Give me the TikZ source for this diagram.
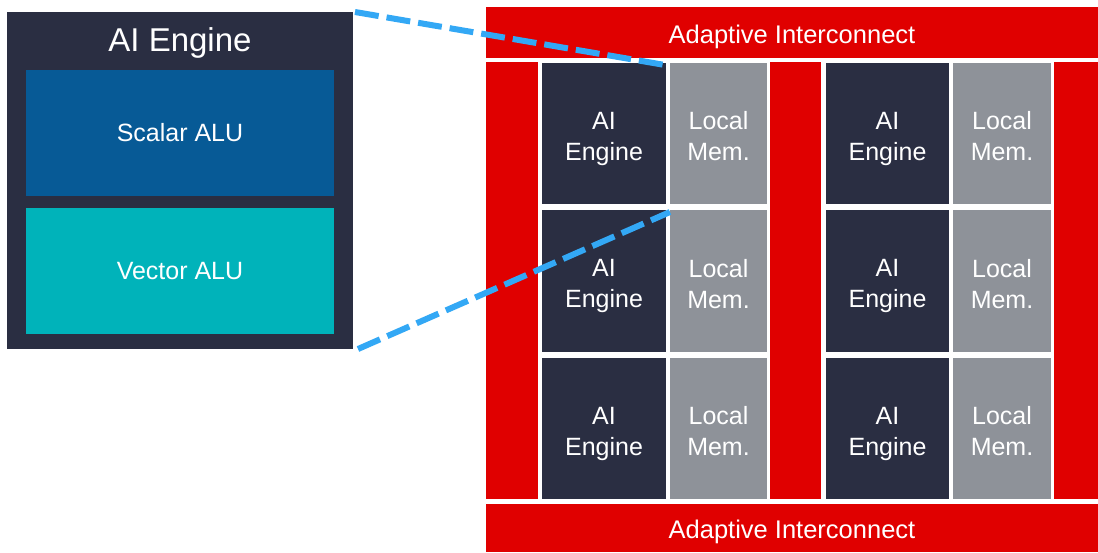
\documentclass[tikz,border=0pt]{standalone}
\usepackage{fontspec}
\setmainfont{Liberation Sans}
\definecolor{navy}{HTML}{2A2E42}
\definecolor{scalarc}{HTML}{075A96}
\definecolor{vectorc}{HTML}{00B3BA}
\definecolor{memc}{HTML}{8E9299}
\definecolor{redc}{HTML}{E00000}
\definecolor{dashc}{HTML}{33A8F5}
\begin{document}
\begin{tikzpicture}[x=1pt,y=-1pt,
  blk/.style={inner sep=0pt,outer sep=0pt,draw=none,text=white,align=center,font=\fontsize{25}{31}\selectfont},
  txt/.style={inner sep=0pt,outer sep=0pt,text=white,align=center,font=\fontsize{25}{31}\selectfont,yshift=-5pt},
  aicell/.style={blk,fill=navy,minimum width=124,minimum height=141,label={[txt]center:AI\\Engine}},
  memcell/.style={blk,fill=memc,minimum width=97,minimum height=141,label={[txt,yshift=2pt]center:Local\\Mem.}},
  redbar/.style={blk,fill=redc},
  bartext/.style={txt,font=\fontsize{25.5}{31}\selectfont,yshift=1pt},
  zoomline/.style={draw=dashc,line width=6pt,dash pattern=on 24pt off 8pt}]
\useasboundingbox (0,0) rectangle (1098,552);
\fill[white] (0,0) rectangle (1098,552);
% left detail box
\node[blk,fill=navy,minimum width=346,minimum height=337] (L) at (180,180.5) {};
\node[blk,font=\fontsize{33}{38}\selectfont] (Lt) at (180,43) {AI Engine};
\node[blk,fill=scalarc,minimum width=308,minimum height=126] (sa) at (180,133) {Scalar ALU};
\node[blk,fill=vectorc,minimum width=308,minimum height=126] (va) at (180,271) {Vector ALU};
% interconnect
\node[redbar,minimum width=612,minimum height=51,label={[bartext]center:Adaptive Interconnect}] (top) at (792,32.5) {};
\node[redbar,minimum width=612,minimum height=48,label={[bartext]center:Adaptive Interconnect}] (bot) at (792,528) {};
\node[redbar,minimum width=52,minimum height=437] (s1) at (512,280.5) {};
\node[redbar,minimum width=51,minimum height=437] (s2) at (795.5,280.5) {};
\node[redbar,minimum width=44,minimum height=437] (s3) at (1076,280.5) {};
% tiles
\node[aicell] (a11) at (604,133.5) {};
\node[memcell] (m11) at (718.5,133.5) {};
\node[aicell,minimum width=123] (a12) at (887.5,133.5) {};
\node[memcell,minimum width=98] (m12) at (1002,133.5) {};
\node[aicell,minimum height=142] (a21) at (604,281) {};
\node[memcell,minimum height=142] (m21) at (718.5,281) {};
\node[aicell,minimum width=123,minimum height=142] (a22) at (887.5,281) {};
\node[memcell,minimum width=98,minimum height=142] (m22) at (1002,281) {};
\node[aicell] (a31) at (604,428.5) {};
\node[memcell] (m31) at (718.5,428.5) {};
\node[aicell,minimum width=123] (a32) at (887.5,428.5) {};
\node[memcell,minimum width=98] (m32) at (1002,428.5) {};
% zoom lines
\draw[zoomline] ([xshift=2pt]L.north east) -- ([xshift=-5pt,yshift=-2pt]m11.north west);
\draw[zoomline] ([xshift=5pt]L.south east) -- ([yshift=-2pt]m21.north west);
\end{tikzpicture}
\end{document}
